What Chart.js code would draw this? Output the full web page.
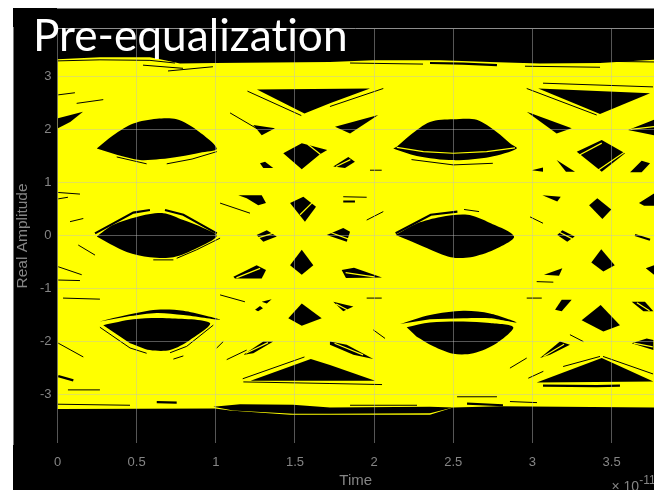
<!DOCTYPE html>
<html>
<head>
<meta charset="utf-8">
<title>Pre-equalization</title>
<script src="https://cdn.jsdelivr.net/npm/chart.js@4"></script>
<style>
  html, body { margin: 0; padding: 0; background: #fff; overflow: hidden; }
  #frame { position: absolute; left: 13px; top: 8px; width: 641px; height: 482px; background: #000; overflow: hidden; }
  #eye { position: absolute; left: 0; top: 0; filter: blur(0.45px); }
  #heading { position: absolute; left: 20px; top: -1px; color: #fff; font: 44.2px Lato, sans-serif; font-variant-ligatures: none; white-space: nowrap; }
  #power { position: absolute; left: 598.5px; top: 470px; color: #858585; font: 14px "Liberation Sans", sans-serif; white-space: nowrap; }
  #power sup { font-size: 12px; position: relative; top: -4px; vertical-align: top; line-height: 12px; }
</style>
</head>
<body>
<div id="frame">
  <canvas id="eye" width="641" height="482"></canvas>
  <div id="heading">Pre-equalization</div>
  <div id="power">&times; 10<sup>-11</sup></div>
</div>
<script>
// Axis ticks
const timeTicks = [0, 0.5, 1, 1.5, 2, 2.5, 3, 3.5];
const ampTicks  = [-3, -2, -1, 0, 1, 2, 3];

// Outer edge of the trace band, [time, amplitude]
const bandTop = [[0,3.32],[0.268,3.36],[0.584,3.36],[0.679,3.30],[0.774,3.24],[0.995,3.25],[1.721,3.27],[1.993,3.30],[2.416,3.30],[2.732,3.27],[3.048,3.24],[3.427,3.25],[3.768,3.31]];
const bandBottom = [[3.768,-3.24],[2.795,-3.22],[2.498,-3.24],[2.353,-3.38],[1.469,-3.38],[1.09,-3.30],[0.995,-3.26],[0,-3.27]];

// The six big eye openings
const eyeUpperLeft  = [[0.248,1.64],[0.352,1.89],[0.479,2.11],[0.627,2.20],[0.753,2.19],[0.879,1.99],[1.006,1.64],[0.900,1.56],[0.774,1.49],[0.648,1.44],[0.521,1.42],[0.374,1.52]];
const eyeUpperRight = [[2.143,1.67],[2.227,1.89],[2.353,2.14],[2.500,2.19],[2.648,2.18],[2.774,1.95],[2.858,1.74],[2.901,1.64],[2.732,1.48],[2.500,1.42],[2.269,1.50],[2.121,1.64]];
const eyeMidLeft    = [[0.248,-0.02],[0.352,0.20],[0.500,0.35],[0.668,0.42],[0.795,0.29],[0.921,0.14],[1.006,-0.01],[0.879,-0.24],[0.732,-0.41],[0.584,-0.41],[0.437,-0.31],[0.332,-0.16]];
const eyeMidRight   = [[2.136,0.01],[2.273,0.23],[2.421,0.35],[2.589,0.39],[2.715,0.26],[2.884,-0.02],[2.757,-0.27],[2.610,-0.41],[2.484,-0.41],[2.336,-0.24],[2.210,-0.08]];
const eyeLowerLeft  = [[0.289,-1.69],[0.479,-1.58],[0.690,-1.56],[0.963,-1.65],[0.837,-1.97],[0.711,-2.16],[0.584,-2.16],[0.458,-2.03]];
const eyeLowerRight = [[2.206,-1.73],[2.353,-1.64],[2.563,-1.62],[2.732,-1.65],[2.879,-1.73],[2.774,-2.03],[2.627,-2.22],[2.500,-2.23],[2.374,-2.09],[2.269,-1.91]];

// Crescents just outside the lower eyes
const crescents = [
  [[0.268,-1.62],[0.437,-1.50],[0.627,-1.40],[0.795,-1.42],[1.027,-1.59],[0.795,-1.50],[0.627,-1.46],[0.458,-1.52]],
  [[2.164,-1.67],[2.353,-1.50],[2.563,-1.42],[2.732,-1.47],[2.901,-1.64],[2.732,-1.56],[2.563,-1.56],[2.353,-1.58]]
];

// Wedges between the top and bottom rails
const wedges = [
  [[1.26,2.75],[1.974,2.77],[1.721,2.49],[1.56,2.30]],
  [[3.037,2.77],[3.743,2.68],[3.427,2.29]],
  [[0.003,2.02],[0.003,2.21],[0.161,2.33],[0.08,2.14]],
  [[1.22,-2.74],[1.60,-2.33],[1.721,-2.44],[2.006,-2.74],[1.721,-2.74]],
  [[3.027,-2.77],[3.438,-2.31],[3.764,-2.75]]
];

// Small openings where the transitions cross
const upperIslands = [
  [[1.237,2.08],[1.374,2.02],[1.290,1.89]],
  [[1.279,1.36],[1.311,1.39],[1.363,1.27],[1.300,1.27]],
  [[1.426,1.55],[1.543,1.74],[1.704,1.61],[1.658,1.53],[1.543,1.25]],
  [[2.026,2.27],[1.753,2.05],[1.848,1.92]],
  [[2.964,2.33],[3.248,2.02],[3.153,1.92]],
  [[3.604,1.99],[3.768,2.18],[3.768,1.89]],
  [[3.280,1.58],[3.438,1.80],[3.585,1.55],[3.438,1.20]],
  [[3.617,1.19],[3.690,1.41],[3.743,1.36],[3.690,1.19]],
  [[1.742,1.30],[1.837,1.48],[1.879,1.39],[1.816,1.27]],
  [[3.153,1.42],[3.269,1.20],[3.212,1.20]],
  [[2.996,1.23],[3.067,1.28],[3.067,1.20]]
];
const midIslands = [
  [[1.142,0.76],[1.290,0.76],[1.317,0.61],[1.268,0.57],[1.195,0.70]],
  [[1.469,0.61],[1.553,0.73],[1.633,0.54],[1.563,0.26]],
  [[1.258,0.01],[1.322,0.10],[1.385,-0.02],[1.300,-0.12]],
  [[1.701,0.01],[1.805,0.14],[1.848,0.07],[1.827,-0.12]],
  [[1.469,-0.56],[1.543,-0.27],[1.616,-0.56],[1.543,-0.74]],
  [[1.111,-0.78],[1.258,-0.56],[1.317,-0.65],[1.290,-0.81],[1.121,-0.81]],
  [[1.795,-0.65],[1.873,-0.61],[2.050,-0.79],[1.822,-0.80]],
  [[3.063,0.76],[3.179,0.73],[3.157,0.64]],
  [[3.358,0.57],[3.410,0.70],[3.498,0.49],[3.442,0.31]],
  [[3.673,0.61],[3.768,0.79],[3.768,0.56],[3.705,0.56]],
  [[3.157,0.01],[3.189,0.10],[3.267,-0.02],[3.220,-0.12]],
  [[3.372,-0.51],[3.435,-0.26],[3.520,-0.56],[3.448,-0.68]],
  [[3.073,-0.74],[3.189,-0.62],[3.168,-0.76]],
  [[3.716,-0.62],[3.768,-0.56],[3.768,-0.74]]
];
const lowerIslands = [
  [[1.248,-1.40],[1.279,-1.33],[1.298,-1.37],[1.267,-1.43]],
  [[1.290,-1.25],[1.353,-1.20],[1.322,-1.28]],
  [[1.458,-1.56],[1.543,-1.28],[1.669,-1.56],[1.543,-1.70]],
  [[1.174,-2.25],[1.300,-2.00],[1.363,-2.00],[1.237,-2.22]],
  [[1.742,-1.25],[1.827,-1.31],[1.869,-1.34],[1.805,-1.43]],
  [[1.721,-2.00],[1.827,-2.06],[1.995,-2.33],[1.869,-2.25],[1.721,-2.06]],
  [[3.143,-1.40],[3.185,-1.21],[3.248,-1.21],[3.185,-1.43]],
  [[3.311,-1.60],[3.431,-1.31],[3.553,-1.69],[3.448,-1.81]],
  [[3.627,-1.25],[3.711,-1.25],[3.764,-1.43],[3.701,-1.43]],
  [[3.048,-2.31],[3.174,-2.00],[3.237,-2.06],[3.111,-2.25]],
  [[3.627,-2.03],[3.722,-1.94],[3.764,-1.97],[3.764,-2.16]]
];

// Black gap between the bottom rail and the stray low trace
const lowGap = [[0.984,-3.23],[1.153,-3.18],[1.488,-3.19],[1.721,-3.24],[2.353,-3.23],[2.498,-3.24],[2.353,-3.35],[1.721,-3.36],[1.488,-3.36],[1.109,-3.30]];

// Gaps between neighbouring traces, heavier ones first
const wideGaps = [
  [[2.353,3.25],[2.561,3.24],[2.776,3.21]],
  [[2.136,0.04],[2.358,0.39],[2.526,0.45]],
  [[0.237,0.04],[0.479,0.43],[0.584,0.48]],
  [[0.679,0.48],[0.795,0.39],[1.006,0.04]],
  [[3.067,-2.83],[3.406,-2.84],[3.553,-2.83]],
  [[0.627,-3.14],[0.753,-3.15]],
  [[2.587,-3.17],[2.814,-3.20]],
  [[1.805,0.64],[1.879,0.64]],
  [[3.648,0.01],[3.743,-0.08]],
  [[0.005,-2.65],[0.1,-2.73]]
];
const thinGaps = [
  [[0,3.29],[0.268,3.31],[0.584,3.30],[0.742,3.25]],
  [[0.54,3.21],[0.793,3.15]],
  [[0.698,3.10],[0.982,3.18]],
  [[1.848,3.25],[2.309,3.23]],
  [[3.509,3.28],[3.768,3.27]],
  [[2.953,3.19],[3.427,3.17]],
  [[3.067,2.87],[3.762,2.80]],
  [[0.005,2.65],[0.11,2.69]],
  [[0.121,2.49],[0.289,2.56]],
  [[1.20,2.72],[1.54,2.26]],
  [[1.721,2.43],[2.058,2.77]],
  [[2.964,2.77],[3.406,2.27]],
  [[1.090,2.31],[1.29,1.96]],
  [[0.374,1.48],[0.563,1.35]],
  [[0.69,1.35],[0.85,1.44],[1.006,1.58]],
  [[2.236,1.43],[2.50,1.33],[2.75,1.36]],
  [[1.974,1.23],[2.048,1.23]],
  [[0.005,0.81],[0.142,0.78]],
  [[0.005,0.69],[0.066,0.72]],
  [[1.027,0.61],[1.216,0.42]],
  [[0.079,0.26],[0.163,0.32]],
  [[0.131,-0.18],[0.237,-0.37]],
  [[1.953,0.29],[2.058,0.45]],
  [[1.805,0.73],[1.953,0.72]],
  [[2.985,0.35],[3.067,0.23]],
  [[2.568,0.49],[2.663,0.45]],
  [[0.605,-0.46],[0.732,-0.46]],
  [[0.753,-0.43],[0.879,-0.27],[1.027,-0.05]],
  [[0.005,-0.59],[0.153,-0.74]],
  [[0.005,-0.84],[0.142,-0.85]],
  [[0.035,-1.18],[0.268,-1.20]],
  [[1.027,-1.12],[1.184,-1.25]],
  [[1.953,-1.18],[2.048,-1.18]],
  [[2.964,-1.18],[3.059,-1.18]],
  [[3.027,-0.87],[3.132,-0.88]],
  [[0.268,-1.73],[0.458,-2.12],[0.563,-2.22]],
  [[0.711,-2.21],[0.816,-2.09],[0.984,-1.69]],
  [[0.005,-2.03],[0.163,-2.29]],
  [[1.006,-2.12],[1.047,-2.00]],
  [[1.069,-2.34],[1.195,-2.16]],
  [[0.732,-2.33],[0.795,-2.27]],
  [[1.995,-1.78],[2.069,-1.94]],
  [[2.858,-2.50],[2.964,-2.31]],
  [[2.974,-2.69],[3.069,-2.56]],
  [[3.237,-1.87],[3.322,-2.00]],
  [[1.17,-2.70],[1.56,-2.29]],
  [[1.174,-2.76],[1.721,-2.79],[2.05,-2.81]],
  [[3.194,-2.47],[3.427,-2.28]],
  [[3.446,-2.28],[3.762,-2.61]],
  [[0.066,-2.91],[0.268,-2.91]],
  [[0,-3.18],[0.458,-3.20]],
  [[1.848,-3.20],[2.271,-3.20]],
  [[2.858,-3.13],[3.029,-3.15]],
  [[2.524,-3.04],[2.776,-3.04]]
];

// Single traces that run across an opening
const crossTraces = [
  [[2.143,1.66],[2.311,1.58],[2.50,1.55],[2.711,1.58],[2.89,1.65]],
  [[1.58,1.72],[1.66,1.53]],
  [[3.30,1.52],[3.438,1.74]],
  [[3.414,1.23],[3.585,1.58]],
  [[1.532,0.39],[1.606,0.61]],
  [[1.26,-0.05],[1.36,0.04]],
  [[1.72,0.06],[1.84,-0.07]],
  [[1.13,-0.80],[1.28,-0.62]],
  [[3.17,0.06],[3.25,-0.06]],
  [[1.76,1.30],[1.85,1.43]],
  [[1.82,-0.70],[2.0,-0.78]],
  [[1.76,-1.29],[1.83,-1.40]],
  [[1.19,-2.22],[1.33,-2.02]],
  [[1.75,-2.03],[1.93,-2.25]],
  [[3.07,-2.28],[3.2,-2.05]],
  [[3.64,-2.03],[3.76,-2.10]],
  [[3.66,-1.27],[3.74,-1.42]],
  [[3.62,2.0],[3.768,2.05]]
];

function line(points, width, color) {
  return { data: points, showLine: true, pointRadius: 0, borderWidth: width, borderColor: color, backgroundColor: color, fill: false };
}

function shape(points, color, tension) {
  var d = line(points, 0, color);
  d.fill = "shape";
  d.tension = tension || 0;
  return d;
}

// datasets paint last to first, so the top layer goes first
var datasets = [];
crossTraces.forEach(function(p) { datasets.push(line(p, 1.2, "#ffff00")); });
thinGaps.forEach(function(p) { datasets.push(line(p, 1, "#000")); });
wideGaps.forEach(function(p) { datasets.push(line(p, 2.2, "#000")); });
[eyeUpperLeft, eyeUpperRight, eyeMidLeft, eyeMidRight, eyeLowerLeft, eyeLowerRight]
  .concat(crescents)
  .forEach(function(p) { datasets.push(shape(p, "#000", 0.3)); });
[lowGap].concat(wedges, upperIslands, midIslands, lowerIslands)
  .forEach(function(p) { datasets.push(shape(p, "#000")); });
datasets.push(shape(bandTop.concat(bandBottom), "#ffff00"));

// top edge of the axes box
const topEdge = {
  id: "topEdge",
  afterDraw: function(chart) {
    var a = chart.chartArea, c = chart.ctx;
    c.save();
    c.strokeStyle = "#8c8c8c";
    c.lineWidth = 1;
    c.beginPath();
    c.moveTo(a.left, a.top + 0.5);
    c.lineTo(a.right, a.top + 0.5);
    c.stroke();
    c.restore();
  }
};

new Chart(document.getElementById("eye"), {
  type: "scatter",
  data: { datasets: datasets },
  plugins: [topEdge],
  options: {
    responsive: false,
    animation: false,
    layout: { padding: { top: 20, left: 0, right: 0, bottom: 0 } },
    plugins: { legend: { display: false }, tooltip: { enabled: false } },
    scales: {
      x: {
        type: "linear", min: 0, max: 3.768,
        afterBuildTicks: function(s) { s.ticks = timeTicks.map(function(v) { return { value: v }; }); },
        afterFit: function(s) { s.height = 46; },
        ticks: { color: "#858585", font: { family: "Liberation Sans", size: 13 }, padding: 11, maxRotation: 0, autoSkip: false, callback: function(v) { return String(v); } },
        grid: { color: "rgba(190,190,190,0.45)", z: 1, drawTicks: false },
        border: { color: "#a0a0a0", width: 1.5 },
        title: { display: true, text: "Time", color: "#858585", font: { family: "Liberation Sans", size: 15 }, padding: 0 }
      },
      y: {
        type: "linear", min: -3.93, max: 3.91,
        afterBuildTicks: function(s) { s.ticks = ampTicks.map(function(v) { return { value: v }; }); },
        afterFit: function(s) { s.width = 44.5; },
        ticks: { color: "#858585", font: { family: "Liberation Sans", size: 13 }, padding: 6, callback: function(v) { return String(v); } },
        grid: { color: "rgba(190,190,190,0.45)", z: 1, drawTicks: false },
        border: { color: "#a0a0a0", width: 1.5 },
        title: { display: true, text: "Real Amplitude", color: "#858585", font: { family: "Liberation Sans", size: 15.5 }, padding: 0 }
      }
    }
  }
});
</script>
</body>
</html>
